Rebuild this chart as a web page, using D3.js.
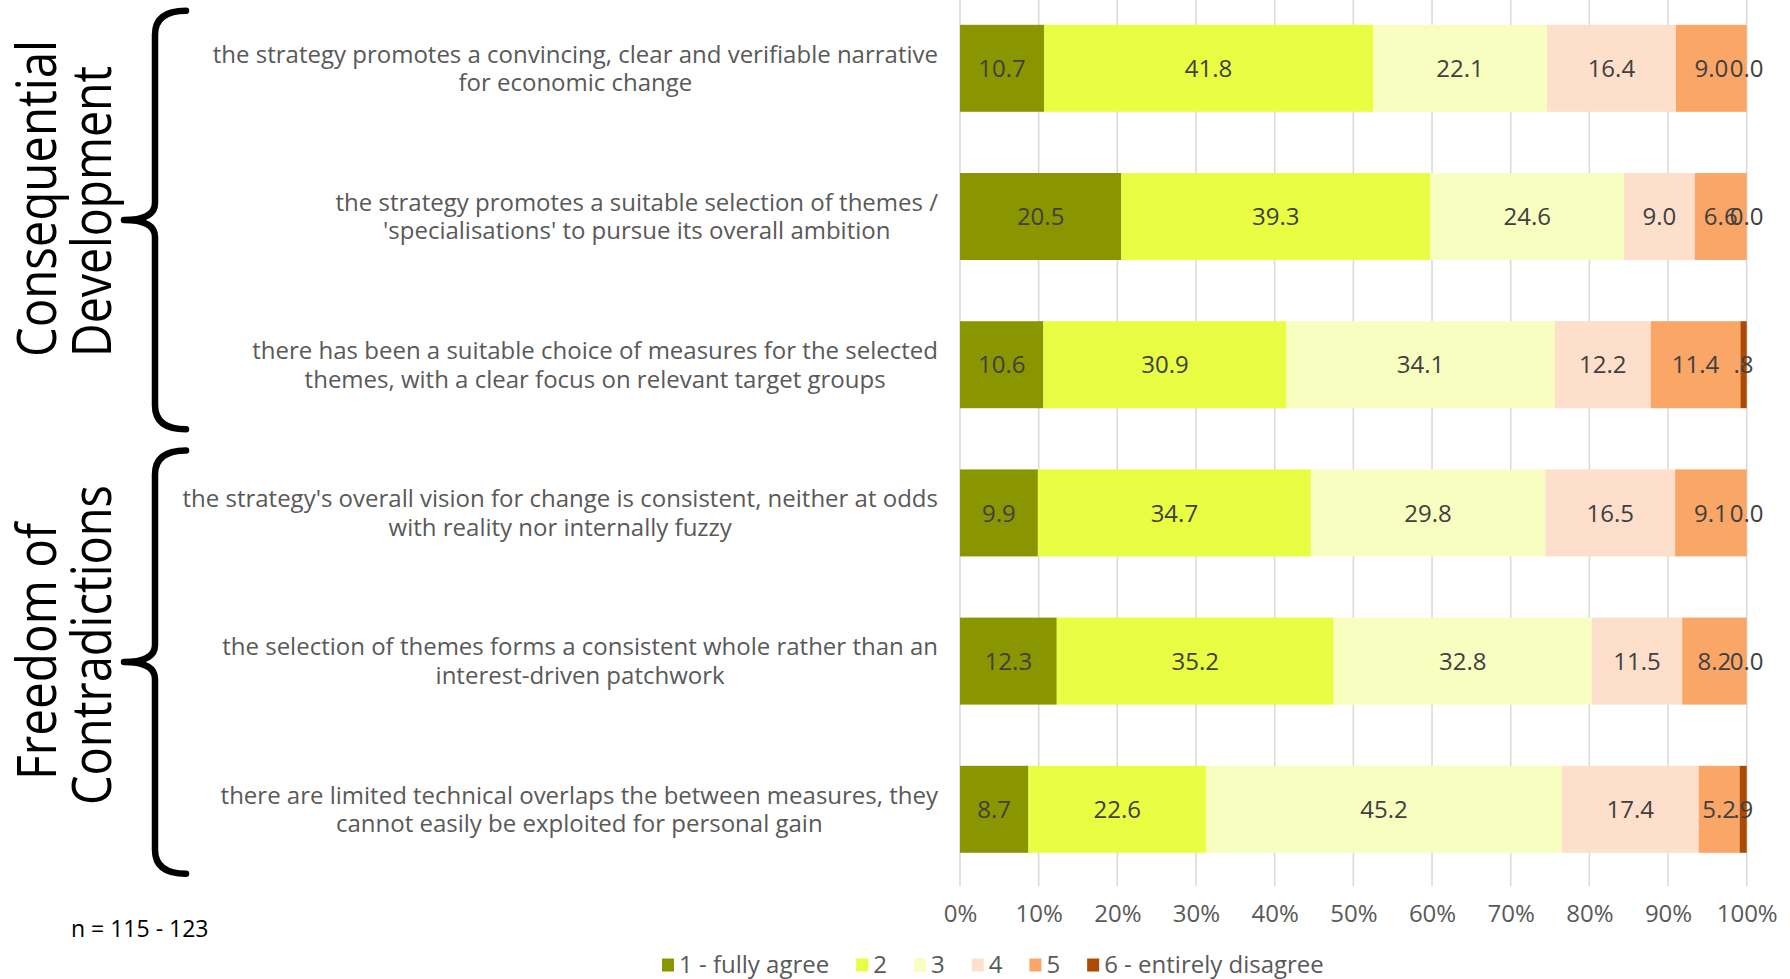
<!DOCTYPE html>
<html>
<head>
<meta charset="utf-8">
<script src="https://cdn.jsdelivr.net/npm/d3@7"></script>
<style>
  html, body { margin: 0; padding: 0; background: #ffffff; }
  svg { display: block; }
  text { font-family: "Open Sans", "Noto Sans", sans-serif; }
</style>
</head>
<body>
<svg id="chart" width="1790" height="979"></svg>
<script>
// ---------- DATA ----------
const categories = [
  ["the strategy promotes a convincing, clear and verifiable narrative", "for economic change"],
  ["the strategy promotes a suitable selection of themes /", "'specialisations' to pursue its overall ambition"],
  ["there has been a suitable choice of measures for the selected", "themes, with a clear focus on relevant target groups"],
  ["the strategy's overall vision for change is consistent, neither at odds", "with reality nor internally fuzzy"],
  ["the selection of themes forms a consistent whole rather than an", "interest-driven patchwork"],
  ["there are limited technical overlaps the between measures, they", "cannot easily be exploited for personal gain"]
];
const seriesNames = ["1 - fully agree", "2", "3", "4", "5", "6 - entirely disagree"];
const seriesColors = ["#8A9600", "#E9FD42", "#F7FEC0", "#FDDFCB", "#F9A667", "#AE4A04"];
const s1 = [10.7, 20.5, 10.6, 9.9, 12.3, 8.7];
const s2 = [41.8, 39.3, 30.9, 34.7, 35.2, 22.6];
const s3 = [22.1, 24.6, 34.1, 29.8, 32.8, 45.2];
const s4 = [16.4, 9.0, 12.2, 16.5, 11.5, 17.4];
const s5 = [9.0, 6.6, 11.4, 9.1, 8.2, 5.2];
const s6 = [0.0, 0.0, 0.8, 0.0, 0.0, 0.9];
const seriesValues = [s1, s2, s3, s4, s5, s6];
const xTicks = [0, 10, 20, 30, 40, 50, 60, 70, 80, 90, 100];
const groups = [
  { lines: ["Consequential", "Development"], from: 0, to: 2 },
  { lines: ["Freedom of", "Contradictions"], from: 3, to: 5 }
];
const noteText = "n = 115 - 123";

// ---------- LAYOUT ----------
const svg = d3.select("#chart");
const plotLeft = 960, plotRight = 1746.7;
const plotTop = -5.8, plotBottom = 883.4;
const gridTop = 0, gridBottom = 886;

const x = d3.scaleLinear().domain([0, 100]).range([plotLeft, plotRight]);
const y = d3.scaleBand()
  .domain(d3.range(categories.length))
  .range([plotTop, plotBottom])
  .paddingInner(0.413)
  .paddingOuter(0.2065);

// stacked data
const rows = categories.map((c, i) => {
  const r = { idx: i };
  seriesNames.forEach((s, k) => r[k] = seriesValues[k][i]);
  return r;
});
const stack = d3.stack().keys(d3.range(seriesNames.length));
const stacked = stack(rows);

// gridlines
svg.append("g").selectAll("line")
  .data(xTicks)
  .join("line")
  .attr("x1", d => x(d)).attr("x2", d => x(d))
  .attr("y1", gridTop).attr("y2", gridBottom)
  .attr("stroke", "#D9D9D9").attr("stroke-width", 1.5);

// bars
const layers = svg.append("g").selectAll("g")
  .data(stacked)
  .join("g")
  .attr("fill", (d, k) => seriesColors[k]);
layers.selectAll("rect")
  .data(d => d)
  .join("rect")
  .attr("x", d => x(d[0]))
  .attr("width", d => Math.max(0, x(d[1]) - x(d[0])))
  .attr("y", d => y(d.data.idx))
  .attr("height", y.bandwidth());

// data labels
const fmt = v => {
  let s = d3.format(".1f")(v);
  if (v > 0 && v < 1) s = s.replace(/^0/, "");
  return s;
};
const labelG = svg.append("g");
stacked.forEach((layer, k) => {
  labelG.selectAll(null)
    .data(layer)
    .join("text")
    .attr("x", d => x((d[0] + d[1]) / 2))
    .attr("y", d => y(d.data.idx) + y.bandwidth() / 2)
    .attr("dy", "0.36em")
    .attr("text-anchor", "middle")
    .attr("font-size", 24)
    .attr("fill", "#404040")
    .text(d => fmt(d[1] - d[0]));
});

// x axis tick labels
const xAxis = d3.axisBottom(x).tickValues(xTicks).tickFormat(d => d + "%").tickSize(0).tickPadding(0);
const axG = svg.append("g").attr("transform", `translate(0, 913)`).call(xAxis);
axG.select(".domain").remove();
axG.selectAll("text")
  .attr("font-size", 24)
  .attr("font-family", "\"Open Sans\", sans-serif")
  .attr("fill", "#595959")
  .attr("dy", "0.36em")
  .attr("y", 0);

// category labels (block right-aligned, lines centered inside)
const catG = svg.append("g");
categories.forEach((lines, i) => {
  const cy = y(i) + y.bandwidth() / 2;
  const lh = 28.5;
  const nodes = lines.map((ln, j) => catG.append("text")
      .attr("y", cy + (j - (lines.length - 1) / 2) * lh)
      .attr("dy", "0.36em")
      .attr("text-anchor", "middle")
      .attr("font-size", 24)
      .attr("fill", "#595959")
      .text(ln));
  const maxW = d3.max(nodes, n => n.node().getComputedTextLength());
  nodes.forEach(n => n.attr("x", 938 - maxW / 2));
});

// group braces
const braceX = 155, braceTipX = 124, braceEndX = 186;
const braceTopOff = [14, 19];
groups.forEach((g, gi) => {
  const top = y(g.from) - braceTopOff[gi];
  const bottom = y(g.to) + y.bandwidth() + 21;
  const mid = (top + bottom) / 2;
  const p = d3.path();
  p.moveTo(braceEndX, top);
  p.quadraticCurveTo(braceX, top, braceX, top + 24);
  p.lineTo(braceX, mid - 17);
  p.quadraticCurveTo(braceX, mid, braceTipX, mid);
  p.quadraticCurveTo(braceX, mid, braceX, mid + 17);
  p.lineTo(braceX, bottom - 24);
  p.quadraticCurveTo(braceX, bottom, braceEndX, bottom);
  svg.append("path")
    .attr("d", p.toString())
    .attr("fill", "none")
    .attr("stroke", "#000")
    .attr("stroke-width", 6.5)
    .attr("stroke-linecap", "round")
    .attr("stroke-linejoin", "round");
});

// group titles (rotated)
const titleSpecs = [
  { text: groups[0].lines[0], bx: 56, sy: 357, len: 317 },
  { text: groups[0].lines[1], bx: 111, sy: 357, len: 291 },
  { text: groups[1].lines[0], bx: 56, sy: 780, len: 257 },
  { text: groups[1].lines[1], bx: 111, sy: 805, len: 320 }
];
titleSpecs.forEach(t => {
  svg.append("text")
    .attr("transform", `translate(${t.bx},${t.sy}) rotate(-90)`)
    .attr("text-anchor", "start")
    .attr("font-size", 55)
    .attr("fill", "#000")
    .attr("textLength", t.len)
    .attr("lengthAdjust", "spacingAndGlyphs")
    .text(t.text);
});

// note
svg.append("text")
  .attr("x", 71).attr("y", 929)
  .attr("dy", "0.36em")
  .attr("font-size", 23)
  .attr("fill", "#000")
  .text(noteText);

// legend
const legG = svg.append("g").attr("transform", "translate(0,965)");
let lx = 662;
seriesNames.forEach((name, k) => {
  legG.append("rect")
    .attr("x", lx).attr("y", -6.5)
    .attr("width", 12).attr("height", 13)
    .attr("fill", seriesColors[k]);
  const t = legG.append("text")
    .attr("x", lx + 17).attr("y", 0)
    .attr("dy", "0.34em")
    .attr("font-size", 24)
    .attr("fill", "#595959")
    .text(name);
  lx += 17 + t.node().getComputedTextLength() + 27;
});
</script>
</body>
</html>
